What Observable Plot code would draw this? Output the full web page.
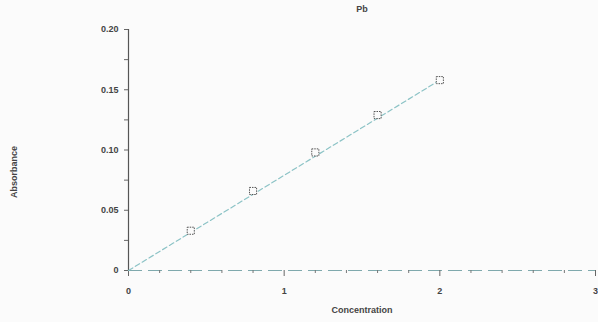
<!DOCTYPE html>
<html>
<head>
<meta charset="utf-8">
<script src="https://cdn.jsdelivr.net/npm/d3@7"></script>
<script src="https://cdn.jsdelivr.net/npm/@observablehq/plot@0.6"></script>
<style>
  html, body { margin: 0; padding: 0; background: #fbfbfb; }
  #chart svg { display: block; }
</style>
</head>
<body>
<div id="chart"></div>
<script>
const title = "Pb";
const xLabel = "Concentration";
const yLabel = "Absorbance";
const concentration = [0.4, 0.8, 1.2, 1.6, 2.0];
const absorbance = [0.033, 0.066, 0.098, 0.129, 0.158];
const fitConcentration = [0, 2.0];
const fitAbsorbance = [0, 0.158];
const xTicks = [0, 1, 2, 3];
const xMinorTicks = [0.2, 0.4, 0.6, 0.8, 1.2, 1.4, 1.6, 1.8, 2.2, 2.4, 2.6, 2.8];
const yTicks = [0, 0.05, 0.1, 0.15, 0.2];
const yTickLabels = ["0", "0.05", "0.10", "0.15", "0.20"];
const yMinorTicks = [0.025, 0.075, 0.125, 0.175];

const points = concentration.map((c, i) => ({c, a: absorbance[i]}));
const fit = fitConcentration.map((c, i) => ({c, a: fitAbsorbance[i]}));

const textColor = "#444";
const chart = Plot.plot({
  width: 598,
  height: 322,
  marginLeft: 128,
  marginRight: 3,
  marginTop: 29,
  marginBottom: 52,
  style: {fontFamily: "Liberation Sans, Arial, sans-serif", fontSize: "9px", fontWeight: "bold", color: textColor, background: "#fbfbfb"},
  x: {type: "linear", domain: [0, 3], label: null},
  y: {type: "linear", domain: [0, 0.2], label: null},
  marks: [
    // x axis line (faint dashed)
    Plot.ruleY([0], {stroke: "#7fa9ad", strokeDasharray: "14,6", strokeWidth: 1.2}),
    // y axis line
    Plot.ruleX([0], {stroke: "#555", strokeWidth: 1.2}),
    Plot.axisX(xTicks, {tickSize: 6, tickPadding: 11, stroke: "#666", fill: textColor, tickFormat: d => String(d), label: xLabel, labelAnchor: "center", labelOffset: 42, labelArrow: "none"}),
    Plot.axisX(xMinorTicks, {tickSize: 3, tickFormat: () => "", stroke: "#777", label: null}),
    Plot.axisY(yTicks, {tickSize: 4, tickPadding: 6, stroke: "#666", fill: textColor, tickFormat: (d, i) => yTickLabels[i], label: null}),
    Plot.axisY(yMinorTicks, {tickSize: 4, tickFormat: () => "", stroke: "#666", label: null}),
    Plot.text([yLabel], {frameAnchor: "left", textAnchor: "middle", dx: -114, dy: 22, rotate: -90, fill: textColor, fontWeight: "bold", fontSize: 9}),
    // fitted line
    Plot.line(fit, {x: "c", y: "a", stroke: "#8cc3c6", strokeWidth: 1.2, strokeDasharray: "5,3"}),
    // data markers
    Plot.dot(points, {x: "c", y: "a", symbol: "square", r: 4, fill: "#fbfbfb", stroke: "#555", strokeWidth: 1, strokeDasharray: "1.5,1"}),
    Plot.text([title], {frameAnchor: "top", dy: -24, fill: textColor, fontWeight: "bold", fontSize: 9})
  ]
});
document.getElementById("chart").append(chart);
</script>
</body>
</html>
